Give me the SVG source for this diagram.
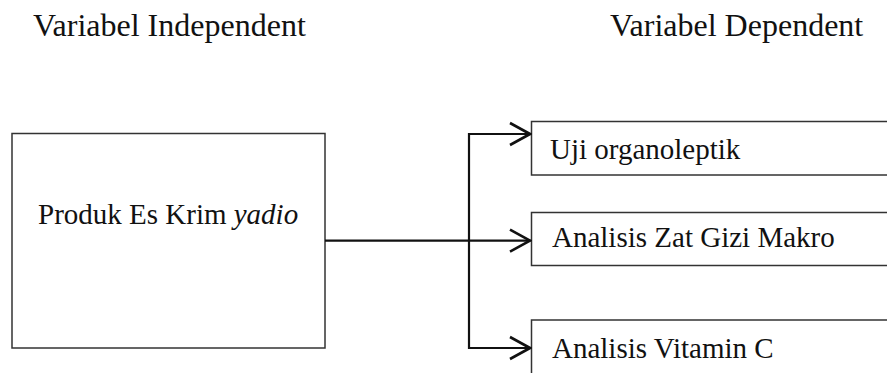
<svg xmlns="http://www.w3.org/2000/svg" width="887" height="373" viewBox="0 0 887 373">
  <style>
    .hdr { font-family: "Liberation Serif", "Times New Roman", serif; font-size: 32px; fill: #111; }
    .lbl { font-family: "Liberation Serif", "Times New Roman", serif; font-size: 29px; fill: #111; }
    .box { fill: #fff; stroke: #333; stroke-width: 1.5; }
    .wire { fill: none; stroke: #111; stroke-width: 2.2; }
  </style>
  <defs>
    <marker id="open-arrow" viewBox="0 0 24 26" refX="22.5" refY="13" markerWidth="24" markerHeight="26" markerUnits="userSpaceOnUse" orient="auto">
      <path d="M2,2 L22,13 L2,24" fill="none" stroke="#111" stroke-width="2.6"/>
    </marker>
  </defs>
  <rect width="887" height="373" fill="#fff"/>

  <!-- column headings -->
  <text class="hdr" x="33" y="36">Variabel Independent</text>
  <text class="hdr" x="610" y="36">Variabel Dependent</text>

  <!-- independent variable -->
  <g id="produk">
    <rect class="box" x="12" y="133.5" width="313" height="214.5"/>
    <text class="lbl" x="38" y="224">Produk Es Krim <tspan font-style="italic">yadio</tspan></text>
  </g>

  <!-- dependent variables (boxes run past the right edge) -->
  <g id="uji">
    <rect class="box" x="531.5" y="121.5" width="370" height="53.5"/>
    <text class="lbl" x="550" y="159">Uji organoleptik</text>
  </g>
  <g id="zat-gizi">
    <rect class="box" x="531.5" y="212.5" width="370" height="53"/>
    <text class="lbl" x="552" y="246.5">Analisis Zat Gizi Makro</text>
  </g>
  <g id="vitamin-c">
    <rect class="box" x="531.5" y="320" width="370" height="70"/>
    <text class="lbl" x="552" y="357.5">Analisis Vitamin C</text>
  </g>

  <!-- connectors -->
  <g id="connectors">
    <path class="wire" d="M325,240.7 H469"/>
    <path class="wire" d="M469,133 V349"/>
    <path class="wire" d="M468,134 H530.5" marker-end="url(#open-arrow)"/>
    <path class="wire" d="M469,240.7 H530.5" marker-end="url(#open-arrow)"/>
    <path class="wire" d="M468,348 H530.5" marker-end="url(#open-arrow)"/>
  </g>
</svg>
